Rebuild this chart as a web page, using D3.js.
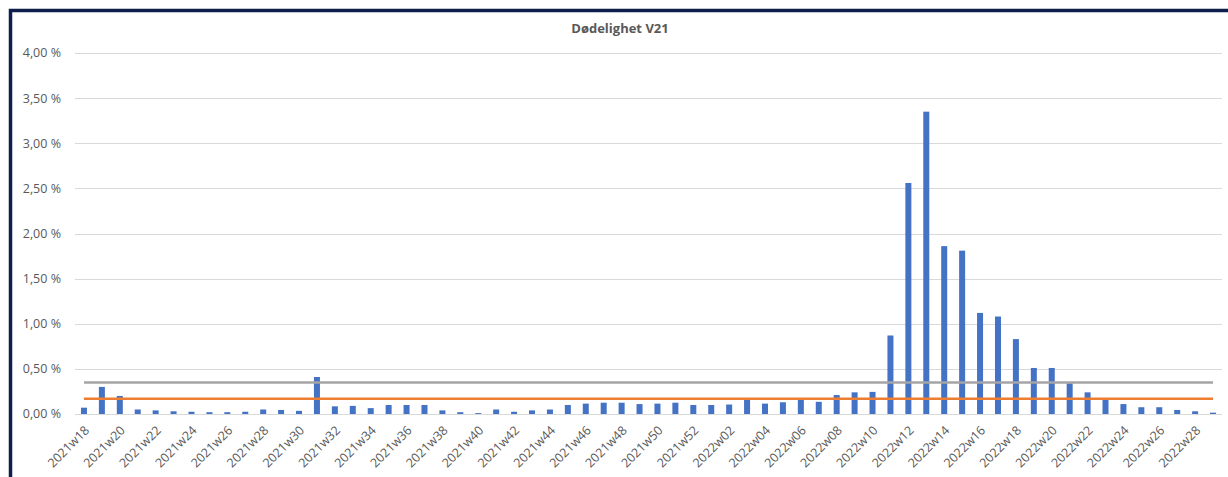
<!DOCTYPE html>
<html>
<head>
<meta charset="utf-8">
<script src="https://cdn.jsdelivr.net/npm/d3@7"></script>
<style>
  html, body { margin: 0; padding: 0; background: #fff; }
  svg { display: block; font-family: "Open Sans", sans-serif; }
</style>
</head>
<body>
<div id="chart"></div>
<script>
// weeks 2021w18 .. 2022w29
const weeks2021 = d3.range(18, 53).map(w => `2021w${String(w).padStart(2, '0')}`);
const weeks2022 = d3.range(1, 30).map(w => `2022w${String(w).padStart(2, '0')}`);
const weeks = weeks2021.concat(weeks2022);

// mortality in percent
const values2021 = [
  0.07, 0.30, 0.20, 0.05, 0.04, 0.03, 0.025, 0.02, 0.02, 0.025,
  0.05, 0.045, 0.035, 0.41, 0.085, 0.09, 0.065, 0.10, 0.10, 0.10,
  0.04, 0.02, 0.01, 0.05, 0.025, 0.04, 0.05, 0.10, 0.115, 0.125,
  0.125, 0.11, 0.115, 0.125, 0.10
];
const values2022 = [
  0.10, 0.105, 0.165, 0.115, 0.13, 0.16, 0.135, 0.21, 0.24, 0.245,
  0.87, 2.56, 3.35, 1.86, 1.81, 1.12, 1.08, 0.83, 0.51, 0.51,
  0.34, 0.24, 0.17, 0.11, 0.075, 0.075, 0.045, 0.03, 0.015
];
const values = values2021.concat(values2022);

const refGray = 0.35;
const refOrange = 0.17;
const yTicks = [0, 0.5, 1, 1.5, 2, 2.5, 3, 3.5, 4];

const width = 1228, height = 477;
const margin = {top: 53, right: 6, bottom: 63, left: 75};

const svg = d3.select('#chart').append('svg')
  .attr('width', width)
  .attr('height', height);

const x = d3.scaleBand()
  .domain(weeks)
  .range([margin.left, width - margin.right])
  .paddingInner(0.665)
  .paddingOuter(0.3325);

const y = d3.scaleLinear()
  .domain([0, 4])
  .range([height - margin.bottom, margin.top]);

const fmt = d => d3.format('.2f')(d).replace('.', ',') + ' %';

// gridlines
svg.append('g')
  .selectAll('line')
  .data(yTicks)
  .join('line')
  .attr('x1', margin.left)
  .attr('x2', width - margin.right)
  .attr('y1', d => Math.round(y(d)) + 0.5)
  .attr('y2', d => Math.round(y(d)) + 0.5)
  .attr('stroke', '#d9d9d9')
  .attr('stroke-width', 1);

// y labels
svg.append('g')
  .selectAll('text')
  .data(yTicks)
  .join('text')
  .attr('x', 61)
  .attr('y', d => y(d))
  .attr('dy', '0.35em')
  .attr('text-anchor', 'end')
  .attr('fill', '#595959')
  .style('font-size', '12.5px')
  .text(fmt);

// bars
svg.append('g')
  .selectAll('rect')
  .data(values)
  .join('rect')
  .attr('x', (d, i) => x(weeks[i]))
  .attr('y', d => y(d))
  .attr('width', x.bandwidth())
  .attr('height', d => y(0) - y(d))
  .attr('fill', '#4472c4');

// reference lines
const cx = w => x(w) + x.bandwidth() / 2;
const refLine = v => d3.line().x(cx).y(() => y(v));

svg.append('path')
  .datum(weeks)
  .attr('d', refLine(refGray))
  .attr('fill', 'none')
  .attr('stroke', '#a5a5a5')
  .attr('stroke-width', 2.5);

svg.append('path')
  .datum(weeks)
  .attr('d', refLine(refOrange))
  .attr('fill', 'none')
  .attr('stroke', '#ed7d31')
  .attr('stroke-width', 2.5);

// x labels, every other week
svg.append('g')
  .selectAll('text')
  .data(weeks.filter((w, i) => i % 2 === 0))
  .join('text')
  .attr('transform', w => `translate(${cx(w) + 3},${y(0) + 14}) rotate(-45)`)
  .attr('text-anchor', 'end')
  .attr('dy', '0.35em')
  .attr('fill', '#595959')
  .style('font-size', '12.5px')
  .text(w => w);

// title
svg.append('text')
  .attr('x', 620)
  .attr('y', 33)
  .attr('text-anchor', 'middle')
  .attr('fill', '#595959')
  .style('font-size', '13px')
  .style('font-weight', 'bold')
  .text('Dødelighet V21');

// frame (top and left edges visible)
svg.append('path')
  .attr('d', `M10.5,${height} V10.5 H${width}`)
  .attr('fill', 'none')
  .attr('stroke', '#0f1e4d')
  .attr('stroke-width', 3.5);
</script>
</body>
</html>
